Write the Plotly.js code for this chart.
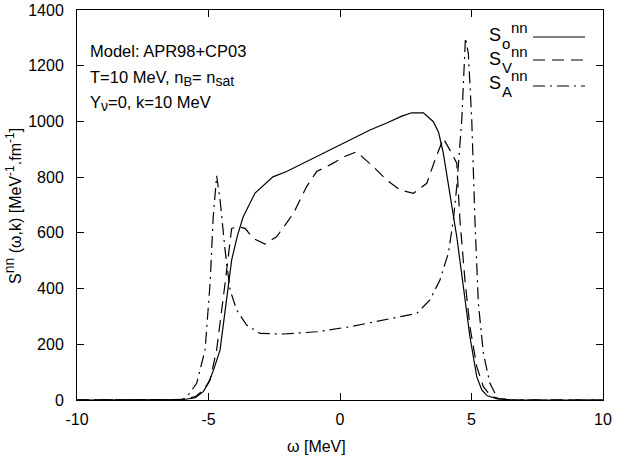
<!DOCTYPE html>
<html>
<head>
<meta charset="utf-8">
<script src="https://cdn.plot.ly/plotly-3.0.1.min.js"></script>
<style>html,body{margin:0;padding:0;background:#fff;}#chart{width:617px;height:461px;}</style>
</head>
<body>
<div id="chart"></div>
<script>
// S_0^nn (solid)
const omegaS0 = [-10, -6.5, -6.0, -5.5, -5.2, -5.0, -4.8, -4.56, -4.35, -4.12, -3.9, -3.68, -3.23, -2.55, -2.03, -1.52, -1.0, -0.38, 0.38, 1.14, 1.8, 2.35, 2.73, 3.17, 3.55, 3.75, 3.93, 4.18, 4.44, 4.69, 4.94, 5.2, 5.39, 5.6, 5.96, 6.5, 10];
const valS0   = [0, 0, 1, 8, 30, 61, 110, 180, 330, 502, 590, 658, 743, 801, 820, 844, 870, 897, 933, 969, 995, 1019, 1031, 1031, 999, 960, 885, 743, 586, 407, 227, 84, 36, 15, 5, 0, 0];
// S_V^nn (dashed)
const omegaSV = [-10, -6.5, -6.0, -5.5, -5.2, -4.94, -4.69, -4.37, -4.12, -3.87, -3.61, -3.3, -2.85, -2.41, -1.77, -1.27, -0.89, -0.38, 0.2, 0.63, 1.27, 1.77, 2.28, 2.79, 3.3, 3.61, 3.93, 4.18, 4.44, 4.56, 4.75, 4.94, 5.2, 5.45, 5.7, 6.0, 6.5, 10];
const valSV   = [0, 0, 2, 12, 35, 72, 180, 419, 616, 622, 616, 580, 560, 586, 670, 766, 820, 844, 875, 891, 837, 790, 754, 742, 778, 861, 939, 897, 850, 646, 431, 263, 120, 48, 18, 5, 0, 0];
// S_A^nn (dash-dot)
const omegaSA = [-10, -6.5, -6.0, -5.83, -5.45, -5.13, -4.94, -4.82, -4.69, -4.56, -4.37, -4.18, -3.93, -3.55, -3.04, -2.16, -0.89, 0.38, 1.65, 2.92, 3.42, 3.8, 4.12, 4.31, 4.44, 4.63, 4.77, 4.88, 5.01, 5.13, 5.26, 5.45, 5.7, 6.0, 6.5, 10];
const valSA   = [0, 0, 2, 10, 60, 180, 419, 658, 805, 718, 538, 395, 323, 269, 239, 237, 245, 263, 287, 311, 359, 431, 527, 646, 766, 1005, 1300, 1244, 1005, 646, 348, 168, 60, 5, 0, 0];

const xTicks = [-10, -5, 0, 5, 10];
const yTicks = [0, 200, 400, 600, 800, 1000, 1200, 1400];

function sb(t, s) { return '<sub><span style="font-size:' + s + 'px">' + t + '</span></sub>'; }
function sp(t, s) { return '<sup><span style="font-size:' + s + 'px">' + t + '</span></sup>'; }

// legend labels: main letter, subscript, superscript
const legendMain = ['S', 'S', 'S'];
const legendSub = ['o', 'V', 'A'];
const legendSup = ['nn', 'nn', 'nn'];
const infoLines = [
  'Model: APR98+CP03',
  'T=10 MeV, n' + sb('B', 13) + '= n' + sb('sat', 14),
  'Y' + sb('ν', 14) + '=0, k=10 MeV'
];
const xTitle = 'ω [MeV]';
const yTitle = 'S' + sp('nn', 14) + ' (ω,k) [MeV' + sp('-1', 12) + '.fm' + sp('-1', 12) + ']';

const FONT = 'Liberation Sans, Arial, Helvetica, sans-serif';
const lw = 1.2;
const dashes = ['solid', '12px,7px', '12px,5px,2px,5px'];

const traces = [
  {x: omegaS0, y: valS0, mode: 'lines', line: {color: '#000', width: lw, dash: dashes[0]}},
  {x: omegaSV, y: valSV, mode: 'lines', line: {color: '#000', width: lw, dash: dashes[1]}},
  {x: omegaSA, y: valSA, mode: 'lines', line: {color: '#000', width: lw, dash: dashes[2]}}
];

// pixel helpers -> paper coords (plot area: x 77..603, y 10..400)
const px = v => (v - 77) / 526;
const py = v => (400 - v) / 390;

const legTextY = [35, 59, 83];
const legLineY = [37, 60, 86];
const annotations = [];
const shapes = [];
function ann(text, x, y, size, xanchor) {
  annotations.push({xref: 'paper', yref: 'paper', x: px(x), y: py(y), xanchor: xanchor || 'left', yanchor: 'middle',
    text: text, showarrow: false, font: {family: FONT, size: size, color: '#000'}, borderpad: 0});
}
legendMain.forEach((t, i) => {
  ann(t, 488, legTextY[i], 18);
  ann(legendSub[i], 500.5, legTextY[i] + 8, 15);
  ann(legendSup[i], 509.5, legTextY[i] - 7, 15);
  shapes.push({type: 'line', xref: 'paper', yref: 'paper', x0: px(533), x1: px(585), y0: py(legLineY[i]), y1: py(legLineY[i]),
    line: {color: '#000', width: lw, dash: dashes[i]}});
});
const infoY = [51, 78, 103];
infoLines.forEach((t, i) => ann(t, 89, infoY[i], 16.5));
ann(xTitle, 316, 446, 16, 'center');
annotations.push({xref: 'paper', yref: 'paper', x: px(12), y: py(206), xanchor: 'center', yanchor: 'middle',
  text: yTitle, textangle: -90, showarrow: false, font: {family: FONT, size: 16, color: '#000'}});

const axisCommon = {
  showgrid: false, zeroline: false, showline: true, linecolor: '#000', linewidth: 1,
  mirror: 'ticks', ticks: 'inside', ticklen: 7, tickcolor: '#000', tickwidth: 1,
  tickfont: {family: FONT, size: 16, color: '#000'}
};

const layout = {
  width: 617, height: 461,
  margin: {l: 77, r: 14, t: 10, b: 61},
  paper_bgcolor: '#fff', plot_bgcolor: '#fff',
  showlegend: false,
  font: {family: FONT, color: '#000'},
  xaxis: Object.assign({}, axisCommon, {range: [-10, 10], tickvals: xTicks, ticktext: xTicks.map(String), ticklabelstandoff: 5}),
  yaxis: Object.assign({}, axisCommon, {range: [0, 1400], tickvals: yTicks, ticktext: yTicks.map(String), ticklabelstandoff: 9}),
  annotations: annotations,
  shapes: shapes
};

Plotly.newPlot('chart', traces, layout, {displayModeBar: false, staticPlot: true});
</script>
</body>
</html>
